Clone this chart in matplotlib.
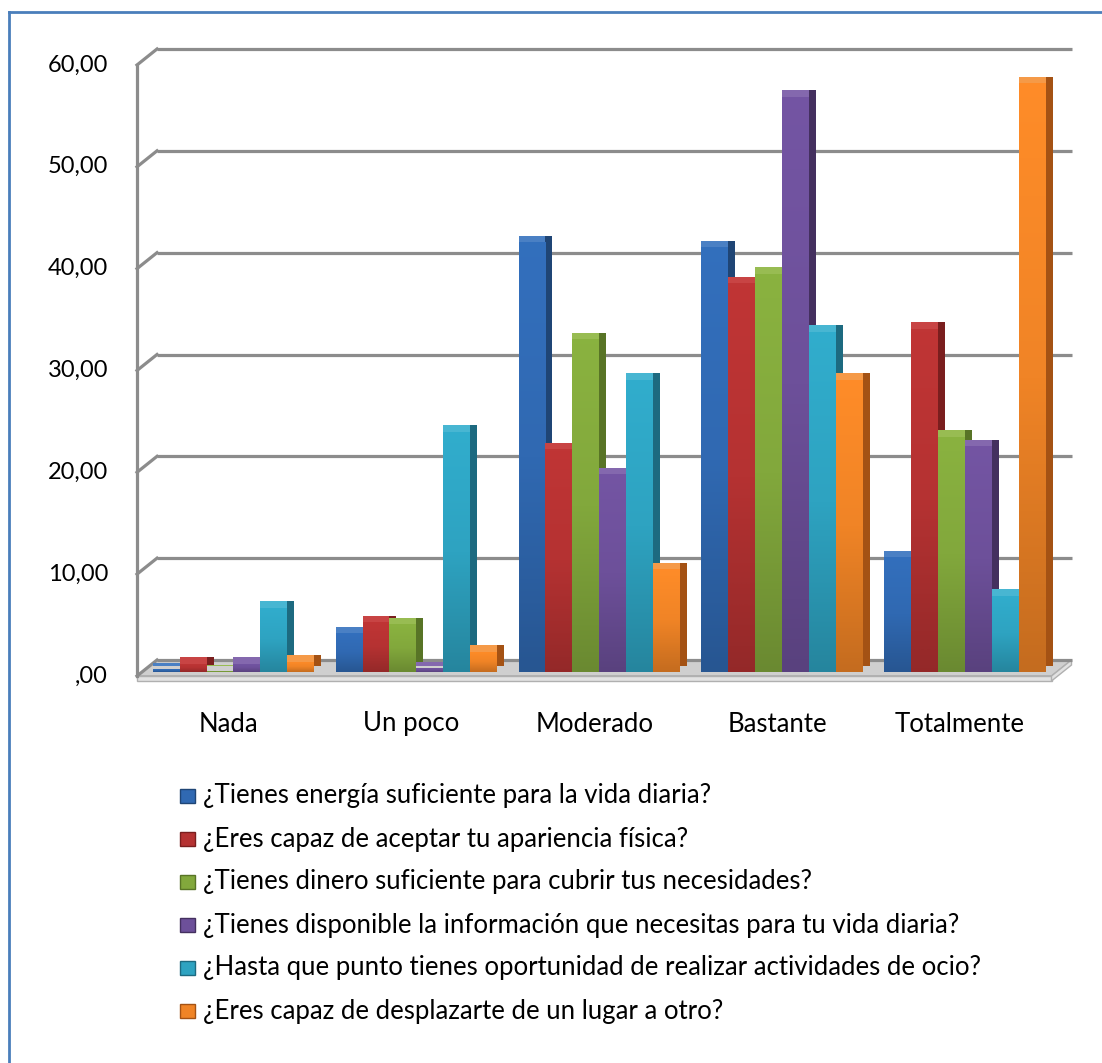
import numpy as np
import matplotlib
matplotlib.use("Agg")
import matplotlib.pyplot as plt
import matplotlib.transforms as mtransforms
import matplotlib.patheffects as pe
from matplotlib.colors import LinearSegmentedColormap, to_rgb
from matplotlib.patches import Polygon, Rectangle
from matplotlib.lines import Line2D

# --- Daten ---
categories = ["Nada", "Un poco", "Moderado", "Bastante", "Totalmente"]
series_labels = [
    "¿Tienes energía suficiente para la vida diaria?",
    "¿Eres capaz de aceptar tu apariencia física?",
    "¿Tienes dinero suficiente para cubrir tus necesidades?",
    "¿Tienes disponible la información que necesitas para tu vida diaria?",
    "¿Hasta que punto tienes oportunidad de realizar actividades de ocio?",
    "¿Eres capaz de desplazarte de un lugar a otro?",
]
energia     = [0.3, 3.8, 42.2, 41.7, 11.3]
apariencia  = [0.8, 4.9, 21.9, 38.2, 33.7]
dinero      = [0.1, 4.7, 32.7, 39.1, 23.1]
informacion = [0.8, 0.4, 19.4, 56.5, 22.2]
ocio        = [6.3, 23.6, 28.7, 33.4, 7.5]
desplazarse = [1.0, 2.0, 10.1, 28.7, 57.8]
yticks = [0, 10, 20, 30, 40, 50, 60]
ytick_labels = [",00", "10,00", "20,00", "30,00", "40,00", "50,00", "60,00"]

series = [energia, apariencia, dinero, informacion, ocio, desplazarse]
front_cols = ["#3069B2", "#B53232", "#82A83C", "#6D509A", "#2EA3C1", "#F08426"]
side_cols  = ["#1F4575", "#7A1E1E", "#587426", "#44305F", "#1D6A80", "#A45214"]
top_cols   = ["#4A80C4", "#C84444", "#98BC52", "#8468AE", "#48B6D2", "#F59A48"]

plt.rcParams["font.family"] = ["Lato", "DejaVu Sans"]
W, H = 1102, 1063
fig = plt.figure(figsize=(W / 100, H / 100), dpi=100)
ax = fig.add_axes([142 / W, (H - 672) / H, 914.5 / W, 611 / H])

# Ebenen: vorne / hinten (Pseudo-3D)
front = ax.transData + mtransforms.ScaledTranslation(-0.05, -0.04, fig.dpi_scale_trans)
back  = ax.transData + mtransforms.ScaledTranslation(0.15, 0.12, fig.dpi_scale_trans)
ident = mtransforms.IdentityTransform()
GRID = "#8C8C8C"

# Balken
w = 0.147
x = np.arange(len(categories))
grad = np.linspace(0, 1, 64).reshape(-1, 1)
for j, vals in enumerate(series):
    bars = ax.bar(x + (j - 2.5) * w, vals, w, color=front_cols[j], edgecolor="none",
                  zorder=3 + j, clip_on=False,
                  path_effects=[
                      pe.SimplePatchShadow(offset=(5.0, 4.6), shadow_rgbFace=side_cols[j], alpha=1),
                      pe.SimplePatchShadow(offset=(0, 4.6), shadow_rgbFace=top_cols[j], alpha=1),
                      pe.Normal(),
                  ])
    c = np.array(to_rgb(front_cols[j]))
    cmap = LinearSegmentedColormap.from_list(f"g{j}", [c * 0.82, c, np.minimum(c * 1.06, 1)])
    for b in bars:
        x0, y0 = b.get_xy()
        im = ax.imshow(grad, extent=(x0, x0 + b.get_width(), y0, y0 + b.get_height()),
                       origin="lower", aspect="auto", cmap=cmap, zorder=3.5 + j,
                       interpolation="bilinear")
        im.set_clip_path(b)

ax.set_xlim(-0.5, 4.5)
ax.set_ylim(0, 60)
ax.set_axis_off()

# Boden
fl, fr = front.transform((-0.5, 0)), front.transform((4.5, 0))
bl, br = back.transform((-0.5, 0)), back.transform((4.5, 0))
th = np.array([0, 5])
ax.add_patch(Polygon([fl, fr, br, bl], closed=True, transform=ident,
                     facecolor="#CFCFCF", edgecolor="#A6A6A6", lw=1, zorder=1, clip_on=False))
ax.add_patch(Polygon([fl, fr, fr - th, fl - th], closed=True, transform=ident,
                     facecolor="#E2E2E2", edgecolor="#B0B0B0", lw=1, zorder=1, clip_on=False))
ax.add_patch(Polygon([fr, br, br - th, fr - th], closed=True, transform=ident,
                     facecolor="#E2E2E2", edgecolor="#B0B0B0", lw=1, zorder=1, clip_on=False))

# Gitterlinien an der Rückwand + Diagonalen
for v in yticks:
    ax.plot([-0.5, 4.5], [v, v], transform=back, color=GRID, lw=2.3,
            clip_on=False, zorder=2, solid_capstyle="butt")
    pf, pb = front.transform((-0.5, v)), back.transform((-0.5, v))
    ax.add_line(Line2D([pf[0], pb[0]], [pf[1], pb[1]], transform=ident,
                       color=GRID, lw=2.3, clip_on=False, zorder=2))
ax.plot([-0.5, -0.5], [0, 60], transform=front, color=GRID, lw=2.3,
        clip_on=False, zorder=2)
ax.set_xlim(-0.5, 4.5)
ax.set_ylim(0, 60)

# Achsenbeschriftungen
lab_tr = front + mtransforms.ScaledTranslation(-0.29, 0, fig.dpi_scale_trans)
for v, lbl in zip(yticks, ytick_labels):
    ax.text(-0.5, v, lbl, transform=lab_tr, ha="right", va="center", fontsize=17)
cat_tr = front + mtransforms.ScaledTranslation(0, -0.48, fig.dpi_scale_trans)
for i, cat in enumerate(categories):
    ax.text(i, 0, cat, transform=cat_tr, ha="center", va="center", fontsize=18.5)

# Legende
for k, lbl in enumerate(series_labels):
    yc = 1 - (796 + 43 * k) / H
    fig.patches.append(Rectangle((180 / W, yc - 7 / H), 15 / W, 14 / H,
                                 transform=fig.transFigure, facecolor=front_cols[k],
                                 edgecolor=side_cols[k], lw=1))
    fig.text(203 / W, yc, lbl, ha="left", va="center", fontsize=18.5)

# Rahmen
fig.add_artist(Line2D([9 / W, 1], [1 - 12 / H, 1 - 12 / H], color="#4A7EBB", lw=2))
fig.add_artist(Line2D([9 / W, 9 / W], [0, 1 - 12 / H], color="#4A7EBB", lw=2))

fig.savefig("out.png", dpi=100)
